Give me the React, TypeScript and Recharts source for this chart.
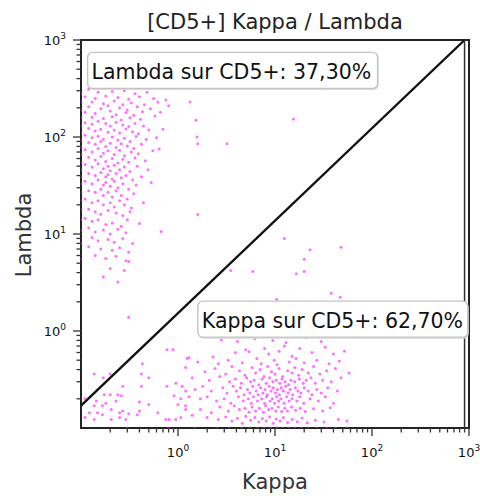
import { ScatterChart, Scatter, XAxis, YAxis, ReferenceLine, ReferenceArea, ReferenceDot } from "recharts";

type Pt = [number, number];

const FONT = "'DejaVu Sans', Verdana, sans-serif";

// events falling in the Lambda gate (upper-left of the diagonal)
const lambdaEvents: Pt[] = [
  [0.12, 310], [0.15, 290], [0.21, 295], [0.28, 300], [0.36, 280], [0.48, 290], [0.11, 260], [0.14, 250],
  [0.18, 265], [0.24, 255], [0.31, 245], [0.4, 260], [0.56, 250], [0.13, 230], [0.17, 220], [0.22, 235],
  [0.27, 215], [0.33, 225], [0.45, 215], [0.62, 230], [0.12, 205], [0.16, 195], [0.19, 210], [0.25, 200],
  [0.3, 190], [0.38, 205], [0.52, 195], [0.11, 180], [0.14, 175], [0.2, 185], [0.23, 170], [0.29, 178],
  [0.35, 168], [0.43, 182], [0.13, 160], [0.17, 155], [0.21, 162], [0.26, 150], [0.32, 158], [0.41, 152],
  [0.58, 165], [0.66, 180], [0.75, 240], [0.8, 210],
  [0.11, 140], [0.13, 135], [0.15, 145], [0.18, 138], [0.2, 130], [0.23, 142], [0.27, 133], [0.31, 128],
  [0.36, 138], [0.44, 130], [0.12, 122], [0.14, 115], [0.16, 120], [0.19, 112], [0.22, 118], [0.25, 110],
  [0.29, 121], [0.34, 113], [0.39, 108], [0.5, 118], [0.7, 120], [0.11, 104], [0.13, 98], [0.15, 102],
  [0.17, 95], [0.21, 100], [0.24, 93], [0.28, 97], [0.32, 90], [0.37, 101], [0.47, 94], [0.6, 98],
  [0.12, 88], [0.14, 84], [0.16, 90], [0.18, 80], [0.2, 86], [0.23, 78], [0.26, 85], [0.3, 81],
  [0.35, 76], [0.42, 84], [0.64, 75], [0.11, 74], [0.13, 70], [0.15, 76], [0.17, 68], [0.19, 72],
  [0.22, 66], [0.25, 73], [0.28, 64], [0.33, 70], [0.39, 67], [0.55, 72], [0.12, 62], [0.14, 58],
  [0.16, 63], [0.18, 56], [0.21, 60], [0.24, 54], [0.27, 59], [0.31, 55], [0.36, 61], [0.46, 57],
  [0.11, 52], [0.13, 49], [0.15, 53], [0.17, 47], [0.19, 50], [0.2, 45], [0.22, 51], [0.25, 46],
  [0.28, 49], [0.32, 44], [0.38, 50], [0.49, 46], [0.12, 42], [0.14, 40], [0.16, 43], [0.18, 39],
  [0.19, 41], [0.21, 37], [0.23, 42], [0.26, 38], [0.29, 40], [0.34, 36], [0.42, 39], [0.11, 35],
  [0.13, 33], [0.15, 36], [0.17, 32], [0.18, 34], [0.2, 31], [0.22, 35], [0.24, 30], [0.27, 33],
  [0.31, 29], [0.37, 32], [0.53, 34], [0.12, 28], [0.14, 27], [0.16, 29], [0.17, 25], [0.19, 27],
  [0.21, 24], [0.23, 28], [0.26, 25], [0.3, 23], [0.35, 26], [0.11, 23], [0.13, 21], [0.15, 22],
  [0.17, 20], [0.2, 21], [0.22, 19], [0.25, 22], [0.28, 20], [0.33, 18.5], [0.44, 21],
  [0.12, 18], [0.14, 17], [0.16, 16], [0.19, 17.5], [0.23, 16.5], [0.27, 15.5], [0.32, 17],
  [0.11, 14.5], [0.13, 13.5], [0.15, 14], [0.18, 12.5], [0.21, 13], [0.26, 12], [0.3, 14], [0.4, 12.8],
  [0.12, 11.5], [0.14, 10.5], [0.17, 11], [0.2, 10], [0.24, 11.2], [0.29, 10.3], [0.67, 10.6],
  [0.13, 9.2], [0.15, 8.5], [0.19, 8.8], [0.22, 8.2], [0.27, 9], [0.34, 8], [0.12, 7.4], [0.16, 7],
  [0.21, 6.8], [0.25, 7.2], [0.31, 6.5], [0.14, 6], [0.18, 5.6], [0.23, 5.9], [0.29, 5.3], [0.31, 5.2],
  [0.2, 4.4], [0.28, 4.2], [0.24, 3.2], [0.17, 3.6], [0.31, 1.39],
  [1.33, 229], [1.53, 149], [15.5, 153], [1.57, 100], [1.6, 85], [3.2, 85], [1.6, 15.9],
  [0.137, 0.36], [0.17, 0.33], [0.2, 0.36], [0.11, 0.2],
  // events piled on the left edge of the scale
  [0.1, 280], [0.1, 230], [0.1, 190], [0.1, 160], [0.1, 130], [0.1, 110], [0.1, 92], [0.1, 78],
  [0.1, 66], [0.1, 55], [0.1, 46], [0.1, 39], [0.1, 33], [0.1, 27], [0.1, 22], [0.1, 18],
  [0.1, 14], [0.1, 11], [0.1, 8], [0.1, 5.5],
];

// events falling in the Kappa gate (lower-right of the diagonal)
const kappaEvents: Pt[] = [
  [2.8, 0.81], [4.1, 0.78], [6.2, 0.83], [9.5, 0.8], [13, 0.76], [21, 0.85], [30, 0.78],
  [1.3, 0.53], [2.3, 0.54], [3.9, 0.6], [5, 0.64], [5.4, 0.61], [7.8, 0.66], [8.6, 0.58], [11, 0.62],
  [12.5, 0.7], [15, 0.55], [18, 0.66], [24, 0.6], [33, 0.68], [40, 0.58], [52, 0.62],
  [1.6, 0.48], [2.6, 0.46], [3.3, 0.5], [4.6, 0.47], [6.5, 0.52], [7.2, 0.46], [9.8, 0.5], [10.5, 0.45],
  [14, 0.48], [16.5, 0.52], [20, 0.47], [27, 0.5], [36, 0.46], [46, 0.49],
  [1.2, 0.42], [1.9, 0.38], [2.4, 0.41], [3.1, 0.36], [3.6, 0.43], [4.3, 0.39], [4.9, 0.35], [5.8, 0.42],
  [6.3, 0.37], [7, 0.4], [7.7, 0.34], [8.4, 0.43], [9.2, 0.38], [10, 0.36], [11, 0.41], [12, 0.34],
  [13.5, 0.39], [15, 0.37], [16, 0.42], [17.5, 0.35], [19, 0.4], [22, 0.37], [25, 0.43], [29, 0.36],
  [34, 0.39], [42, 0.41], [58, 0.37],
  [1.4, 0.33], [2.1, 0.31], [2.7, 0.34], [3.4, 0.3], [3.9, 0.32], [4.5, 0.29], [5.1, 0.33], [5.6, 0.3],
  [6.1, 0.31], [6.8, 0.28], [7.4, 0.32], [8.1, 0.29], [8.8, 0.33], [9.5, 0.3], [10.3, 0.31], [11.2, 0.29],
  [11.8, 0.32], [12.7, 0.3], [13.8, 0.28], [14.6, 0.31], [16, 0.3], [17.8, 0.32], [19.5, 0.29], [21, 0.31],
  [23.5, 0.33], [26, 0.29], [31, 0.31], [38, 0.3], [48, 0.33],
  [1.1, 0.27], [1.5, 0.25], [1.8, 0.27], [2.2, 0.24], [2.9, 0.26], [3.2, 0.23], [3.7, 0.27], [4, 0.24],
  [4.4, 0.26], [4.8, 0.22], [5.2, 0.25], [5.5, 0.23], [5.9, 0.27], [6.4, 0.24], [6.7, 0.22], [7.1, 0.26],
  [7.5, 0.23], [7.9, 0.25], [8.3, 0.22], [8.7, 0.27], [9.1, 0.24], [9.6, 0.26], [10.1, 0.23], [10.6, 0.25],
  [11.1, 0.22], [11.6, 0.26], [12.2, 0.24], [12.9, 0.27], [13.6, 0.23], [14.3, 0.25], [15.2, 0.22], [16.2, 0.26],
  [17.2, 0.24], [18.5, 0.23], [20, 0.26], [22, 0.24], [24, 0.22], [27, 0.25], [30, 0.23], [35, 0.26], [44, 0.24],
  [1.3, 0.21], [1.7, 0.2], [2, 0.21], [2.5, 0.19], [3, 0.2], [3.5, 0.18], [4.2, 0.21], [4.7, 0.19],
  [5.3, 0.2], [5.7, 0.18], [6, 0.21], [6.6, 0.19], [7.3, 0.2], [7.8, 0.18], [8.2, 0.21], [8.9, 0.19],
  [9.4, 0.2], [9.9, 0.18], [10.4, 0.21], [10.9, 0.19], [11.5, 0.2], [12.4, 0.18], [13.2, 0.21], [14, 0.19],
  [15, 0.2], [16.8, 0.19], [18, 0.21], [19.8, 0.18], [23, 0.2], [28, 0.19], [33, 0.21], [40, 0.18],
  [1.2, 0.17], [1.7, 0.155], [2.2, 0.144], [2.7, 0.165], [3.3, 0.15], [3.8, 0.17], [4.3, 0.155], [4.9, 0.16],
  [5.4, 0.145], [5.8, 0.165], [6.3, 0.15], [6.9, 0.16], [7.6, 0.145], [8, 0.17], [8.6, 0.155], [9.3, 0.16],
  [10.2, 0.15], [10.8, 0.165], [11.7, 0.148], [12.6, 0.16], [13.4, 0.15], [14.8, 0.165], [16.3, 0.152], [18.2, 0.16],
  [20.5, 0.148], [25, 0.158], [31, 0.15], [37, 0.162],
  [1.4, 0.135], [2, 0.128], [2.6, 0.122], [3.1, 0.13], [3.6, 0.118], [4.1, 0.126], [4.6, 0.112], [5, 0.132],
  [5.6, 0.12], [6.2, 0.128], [6.8, 0.115], [7.4, 0.125], [8.1, 0.118], [8.8, 0.13], [9.6, 0.112], [10.3, 0.124],
  [11.3, 0.118], [12.2, 0.128], [13.5, 0.114], [15, 0.122], [17, 0.116], [19, 0.127], [21.5, 0.113], [26, 0.12],
  [32, 0.115], [45, 0.122], [55, 0.118],
  // low-Kappa events near the origin
  [0.43, 0.46], [0.42, 0.36], [0.5, 0.33], [0.77, 0.64], [0.89, 0.64], [1.24, 0.52], [0.27, 0.27], [0.42, 0.27],
  [0.77, 0.27], [0.95, 0.29], [1.2, 0.24], [0.144, 0.19], [0.174, 0.22], [0.137, 0.17], [0.166, 0.17], [0.18, 0.18],
  [0.122, 0.144], [0.148, 0.144], [0.205, 0.155], [0.25, 0.144], [0.27, 0.15], [0.31, 0.14], [0.4, 0.15], [0.5, 0.175],
  [0.62, 0.144], [0.91, 0.215], [1.07, 0.2], [1, 0.175], [0.11, 0.128], [0.137, 0.122], [0.166, 0.137], [0.205, 0.122],
  [0.25, 0.128], [0.29, 0.122], [0.38, 0.137], [0.75, 0.122], [0.81, 0.122], [0.95, 0.122], [1.07, 0.128], [1.2, 0.155],
  [0.2, 0.22], [0.24, 0.22], [0.26, 0.215], [0.23, 0.19], [0.4, 0.185],
  [12.5, 9], [23, 6.9], [48, 7.3], [20, 5.5], [3.5, 4.2], [5.9, 4.1], [16.6, 3.9], [20, 4.1],
  [38, 2.45], [47, 2.23], [10.4, 2.13], [5.6, 1.98],
  // events piled on the bottom edge of the scale
  [0.3, 0.1], [0.8, 0.1], [1.5, 0.1], [2.5, 0.1], [3.4, 0.1], [4.5, 0.1], [5.5, 0.1], [6.6, 0.1],
  [7.7, 0.1], [9, 0.1], [10.5, 0.1], [12, 0.1], [14, 0.1], [16, 0.1], [18.5, 0.1], [22, 0.1],
  [27, 0.1], [34, 0.1], [42, 0.1], [55, 0.1],
];

const gateNames = ["Lambda sur CD5+", "Kappa sur CD5+"];
const gatePercents = [37.3, 62.7];

// gate boundary: diagonal split, closed on the right at Kappa = 900
const gateDiagonal: Pt[] = [[0.1, 0.17], [900, 1000]];
const gateRight: Pt[] = [[900, 1000], [900, 0.1]];

const decades = [0.1, 1, 10, 100];
const minorSteps = [2, 3, 4, 5, 6, 7, 8, 9];
const logTicks = [
  ...decades.flatMap((d) => minorSteps.map((m) => +(m * d).toPrecision(3))),
  1, 10, 100, 1000,
].sort((a, b) => a - b);

const toXY = (pts: Pt[]) => pts.map(([x, y]) => ({ x, y }));

function isMajor(v: number) {
  const l = Math.log10(v);
  return Math.abs(l - Math.round(l)) < 1e-6;
}

function BottomTick({ x, y, payload }: any) {
  const major = isMajor(payload.value);
  const exp = Math.round(Math.log10(payload.value));
  return (
    <g>
      <line x1={x} x2={x} y1={y} y2={y + (major ? 8 : 4.5)} stroke="#333" strokeWidth={1.3} />
      {major && (
        <text x={x} y={y + 29} textAnchor="middle" fontSize={13} fill="#111" fontFamily={FONT}>
          10<tspan dy={-6} fontSize={9}>{exp}</tspan>
        </text>
      )}
    </g>
  );
}

function LeftTick({ x, y, payload }: any) {
  const major = isMajor(payload.value);
  const exp = Math.round(Math.log10(payload.value));
  return (
    <g>
      <line x1={x} x2={x - (major ? 8 : 4.5)} y1={y} y2={y} stroke="#333" strokeWidth={1.3} />
      {major && (
        <text x={x - 15} y={y + 5} textAnchor="end" fontSize={13} fill="#111" fontFamily={FONT}>
          10<tspan dy={-6} fontSize={9}>{exp}</tspan>
        </text>
      )}
    </g>
  );
}

// one event: small soft magenta dot
const Event = (p: any) => (
  <circle cx={p.cx} cy={p.cy} r={1.5} fill="#ff1aff" fillOpacity={0.62} />
);

function GateBox({ cx, cy, w, text }: { cx: number; cy: number; w: number; text: string }) {
  return (
    <g>
      <rect x={cx + 1} y={cy + 1.5} width={w} height={36} rx={5} fill="#d8d8d8" />
      <rect x={cx} y={cy} width={w} height={36} rx={5} fill="#fff" stroke="#c4c4c4" strokeWidth={1.4} />
      <text x={cx + 4} y={cy + 27} fontSize={20.5} fill="#111" fontFamily={FONT}>
        {text}
      </text>
    </g>
  );
}

const pct = (v: number) => v.toFixed(2).replace(".", ",") + "%";

export default function App() {
  const boxes = [
    { x: 0.117, y: 745, w: 290 },
    { x: 1.6, y: 2.03, w: 270 },
  ];
  return (
    <div style={{ position: "absolute", left: 0, top: 0, width: 480, height: 500, background: "#fff" }}>
      <ScatterChart width={480} height={500} margin={{ top: 40, right: 11, bottom: 0, left: 0 }}>
        <XAxis
          type="number"
          dataKey="x"
          scale="log"
          domain={[0.1, 1000]}
          allowDataOverflow
          ticks={logTicks}
          interval={0}
          height={72}
          axisLine={false}
          tickLine={false}
          tickSize={0}
          tickMargin={0}
          tick={<BottomTick />}
        />
        <YAxis
          type="number"
          dataKey="y"
          scale="log"
          domain={[0.1, 1000]}
          allowDataOverflow
          ticks={logTicks}
          interval={0}
          width={81}
          axisLine={false}
          tickLine={false}
          tickSize={0}
          tickMargin={0}
          tick={<LeftTick />}
        />
        <ReferenceArea x1={0.1} x2={1000} y1={0.1} y2={1000} fill="none" stroke="#222" strokeWidth={2} />
        <Scatter data={toXY(lambdaEvents)} shape={Event} isAnimationActive={false} />
        <Scatter data={toXY(kappaEvents)} shape={Event} isAnimationActive={false} />
        <ReferenceLine
          segment={gateDiagonal.map(([x, y]) => ({ x, y }))}
          stroke="#111"
          strokeWidth={2.4}
        />
        <ReferenceLine
          segment={gateRight.map(([x, y]) => ({ x, y }))}
          stroke="#333"
          strokeWidth={1.5}
        />
        {boxes.map((b, i) => (
          <ReferenceDot
            key={gateNames[i]}
            x={b.x}
            y={b.y}
            r={0}
            ifOverflow="visible"
            shape={(p: any) => (
              <GateBox cx={p.cx} cy={p.cy} w={b.w} text={`${gateNames[i]}: ${pct(gatePercents[i])}`} />
            )}
          />
        ))}
      </ScatterChart>
      <svg width={480} height={500} style={{ position: "absolute", left: 0, top: 0, pointerEvents: "none" }}>
        <text x={275} y={29} textAnchor="middle" fontSize={21} fill="#222" fontFamily={FONT}>
          [CD5+] Kappa / Lambda
        </text>
        <text x={275} y={489} textAnchor="middle" fontSize={21} fill="#333" fontFamily={FONT}>
          Kappa
        </text>
        <text x={31} y={235} textAnchor="middle" fontSize={21} fill="#333" fontFamily={FONT} transform="rotate(-90 31 235)">
          Lambda
        </text>
      </svg>
    </div>
  );
}
